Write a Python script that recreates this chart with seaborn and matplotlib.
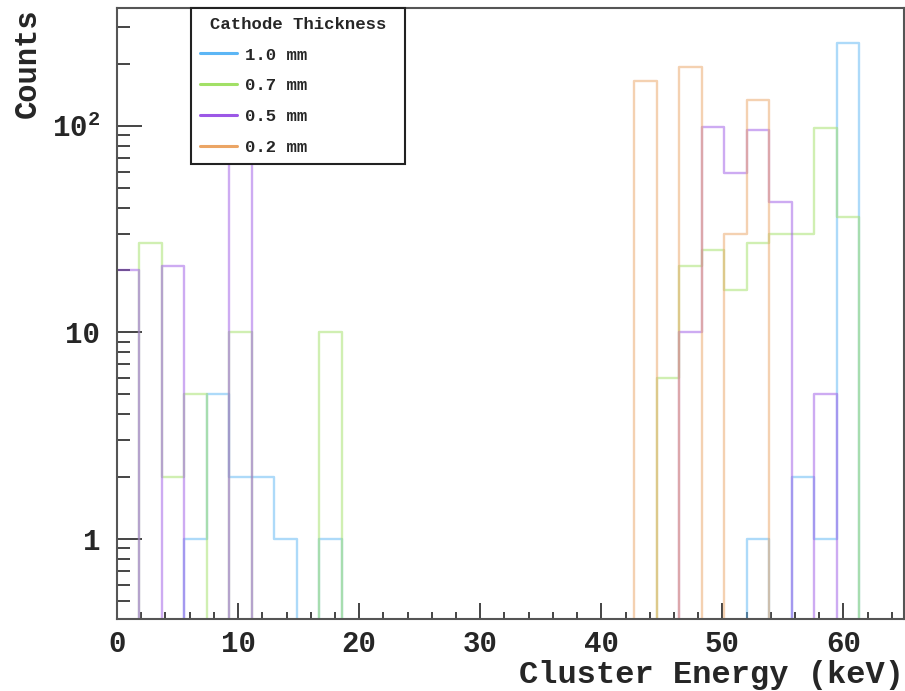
import numpy as np
import pandas as pd
import matplotlib
matplotlib.use("Agg")
import matplotlib.pyplot as plt
from matplotlib.lines import Line2D
from matplotlib.ticker import MultipleLocator, LogLocator, FixedLocator, FixedFormatter, NullFormatter
import seaborn as sns

# ---- data: 35 bins from 0 to 65 keV ----
bin_edges = list(np.linspace(0, 65, 36))
thickness = ["1.0 mm", "0.7 mm", "0.5 mm", "0.2 mm"]

counts_10 = [0, 0, 0, 1, 5, 2, 2, 1, 0, 1, 0, 0, 0, 0, 0, 0, 0, 0, 0, 0, 0, 0, 0,
             0, 0, 0, 0, 0, 1, 0, 2, 1, 253, 0, 0]
counts_07 = [0, 27, 2, 5, 0, 10, 0, 0, 0, 10, 0, 0, 0, 0, 0, 0, 0, 0, 0, 0, 0, 0, 0,
             0, 6, 21, 25, 16, 27, 30, 30, 98, 36, 0, 0]
counts_05 = [20, 0, 21, 0, 0, 85, 0, 0, 0, 0, 0, 0, 0, 0, 0, 0, 0, 0, 0, 0, 0, 0, 0,
             0, 0, 10, 99, 59, 95, 43, 0, 5, 0, 0, 0]
counts_02 = [0, 0, 0, 0, 0, 0, 0, 0, 0, 0, 0, 0, 0, 0, 0, 0, 0, 0, 0, 0, 0, 0, 0,
             165, 0, 193, 0, 30, 134, 0, 0, 0, 0, 0, 0]
y_tick_values = [1, 10, 100]
y_tick_labels = ["1", "10", r"$\mathbf{10^{2}}$"]

colors = {"1.0 mm": "#5cb6f5", "0.7 mm": "#a2e066", "0.5 mm": "#9c58e6", "0.2 mm": "#eba565"}

centers = [0.5 * (a + b) for a, b in zip(bin_edges[:-1], bin_edges[1:])]
rows = []
for name, cts in zip(thickness, [counts_10, counts_07, counts_05, counts_02]):
    for c, v in zip(centers, cts):
        rows.append({"energy": c, "counts": v, "thickness": name})
df = pd.DataFrame(rows)

# ---- figure ----
sns.set_style("white")
plt.rcParams["font.family"] = ["Liberation Mono", "DejaVu Sans"]
plt.rcParams["font.weight"] = "bold"
plt.rcParams["mathtext.fontset"] = "custom"
plt.rcParams["mathtext.rm"] = "Liberation Mono"
plt.rcParams["mathtext.bf"] = "Liberation Mono:bold"

fig = plt.figure(figsize=(9.05, 6.91), dpi=100)
ax = fig.add_axes([117 / 905, 1 - 619 / 691, (904 - 117) / 905, (619 - 8) / 691])

ax.set_yscale("log", nonpositive="clip")
for name in thickness:
    sns.histplot(data=df[df["thickness"] == name], x="energy", weights="counts",
                 bins=bin_edges, element="step", fill=False, color=colors[name],
                 linewidth=1.7, alpha=0.5, ax=ax, legend=False)
ax.set_yscale("log", nonpositive="clip")

ax.set_xlim(0, 65)
ax.set_ylim(0.409, 372)

# ticks
ax.xaxis.set_major_locator(MultipleLocator(10))
ax.xaxis.set_minor_locator(MultipleLocator(2))
ax.yaxis.set_major_locator(FixedLocator(y_tick_values))
ax.yaxis.set_major_formatter(FixedFormatter(y_tick_labels))
ax.yaxis.set_minor_locator(LogLocator(base=10, subs=np.arange(2, 10), numticks=20))
ax.yaxis.set_minor_formatter(NullFormatter())
ax.tick_params(axis="both", which="both", direction="in", color="#444444",
               top=False, right=False, bottom=True, left=True)
ax.tick_params(axis="x", which="major", length=11.5, width=1.4, pad=8, labelsize=21)
ax.tick_params(axis="x", which="minor", length=5, width=1.4)
ax.tick_params(axis="y", which="major", length=18, width=1.4, pad=12, labelsize=21)
ax.tick_params(axis="y", which="minor", length=9.5, width=1.4)
for lab in ax.get_xticklabels() + ax.get_yticklabels():
    lab.set_fontweight("bold")

for s in ax.spines.values():
    s.set_color("#555555")
    s.set_linewidth(1.5)

ax.set_xlabel("Cluster Energy (keV)", fontsize=23, fontweight="bold", loc="right")
ax.xaxis.set_label_coords(1.0, -0.0917)
ax.xaxis.label.set_horizontalalignment("right")
ax.xaxis.label.set_verticalalignment("center")
ax.set_ylabel("Counts", fontsize=22, fontweight="bold", loc="top")
ax.yaxis.set_label_coords(-0.113, 1.0)
ax.yaxis.label.set_verticalalignment("center")
ax.yaxis.label.set_horizontalalignment("right")

# legend
fs = 12.4
handles = [Line2D([0], [0], color=colors[n], lw=2.2) for n in thickness]
leg = ax.legend(handles, thickness, title="Cathode Thickness", loc="upper left",
                bbox_to_anchor=(191 / 905, 1 - 161 / 691, 214 / 905, 153 / 691),
                bbox_transform=fig.transFigure, mode="expand",
                frameon=True, fancybox=False, framealpha=1, edgecolor="#222222",
                prop={"family": "Liberation Mono", "weight": "bold", "size": fs},
                title_fontproperties={"family": "Liberation Mono", "weight": "bold", "size": fs},
                handlelength=2.15, labelspacing=0.92, borderpad=0.5, handletextpad=0.5,
                borderaxespad=0)
leg.get_frame().set_linewidth(1.5)

fig.savefig("out.png", dpi=100)
